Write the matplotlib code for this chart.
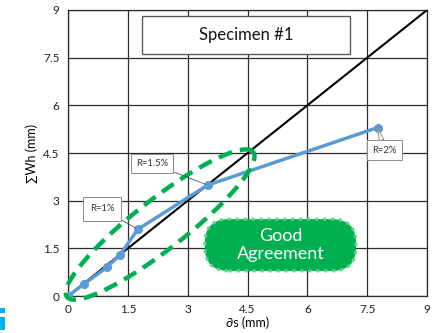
import numpy as np
import matplotlib
matplotlib.use("Agg")
import matplotlib.pyplot as plt
from matplotlib.patches import FancyBboxPatch, Rectangle

plt.rcParams['font.family'] = ['Lato', 'DejaVu Sans']

# data
ds = [0.0, 0.4, 0.97, 1.3, 1.75, 3.5, 7.76]
wh = [0.0, 0.38, 0.9, 1.29, 2.1, 3.49, 5.3]
ticks = [0, 1.5, 3, 4.5, 6, 7.5, 9]
tick_labels = ["0", "1.5", "3", "4.5", "6", "7.5", "9"]
labels = ["R=1%", "R=1.5%", "R=2%"]
label_idx = [4, 5, 6]
label_pos = [(0.85, 2.74), (2.10, 4.17), (7.94, 4.59)]

W, H = 443, 333
fig = plt.figure(figsize=(W / 100, H / 100), dpi=100)
L, B, R, T = 0.1535, 0.111, 0.964, 0.97
ax = fig.add_axes([L, B, R - L, T - B])
ax.set_xlim(0, 9)
ax.set_ylim(0, 9)
ax.set_xticks(ticks)
ax.set_yticks(ticks)
ax.set_xticklabels(tick_labels)
ax.set_yticklabels(tick_labels)
ax.tick_params(length=0, labelsize=8.5, colors='#222222', pad=6)
ax.grid(True, color='#2b2b2b', lw=0.9)
ax.set_axisbelow(True)
for s in ax.spines.values():
    s.set_color('#2b2b2b')
    s.set_linewidth(0.9)

ax.set_xlabel("∂s (mm)", fontsize=9, labelpad=1)
ax.set_ylabel("∑Wh (mm)", fontsize=9, labelpad=4)

# pixel scales
sx = (R - L) * W / 9
sy = (T - B) * H / 9

# 1:1 line
ax.plot([0, 9], [0, 9], color='black', lw=1.5, zorder=3)

# ellipse (annotation)
cx, cy = 2.31, 2.25
ang = np.deg2rad(37.9)
a_px, b_px = 118, 25
t = np.linspace(0, 2 * np.pi, 400)
px = a_px * np.cos(t) * np.cos(ang) - b_px * np.sin(t) * np.sin(ang)
py = a_px * np.cos(t) * np.sin(ang) + b_px * np.sin(t) * np.cos(ang)
ax.plot(cx + px / sx, cy + py / sy, color='#00B050', lw=3.2,
        ls=(0, (3.2, 1.8)), zorder=5, clip_on=False)

# data series
ax.plot(ds, wh, color='#5B9BD5', lw=2.5, marker='o', ms=5.5, zorder=4)

# callouts
pads = [0.75, 0.5, 0.55]
for lab, i, pos, pd in zip(labels, label_idx, label_pos, pads):
    if lab == "R=2%":
        arrow = dict(arrowstyle='wedge,tail_width=0.5', fc='white', ec='#8c8c8c',
                     lw=0.7, shrinkA=0, shrinkB=0)
    else:
        arrow = dict(arrowstyle='-', color='#555555', lw=0.6, shrinkA=0, shrinkB=2)
    ax.annotate(lab, xy=(ds[i], wh[i]), xytext=pos, fontsize=6.8,
                ha='center', va='center', color='#333333', zorder=6,
                bbox=dict(boxstyle=f'square,pad={pd}', fc='white', ec='#8c8c8c', lw=0.7),
                arrowprops=arrow)

# Specimen box
x0, x1 = 1.855, 7.07
y0, y1 = 7.61, 8.80
ax.add_patch(Rectangle((x0, y0), x1 - x0, y1 - y0, fc='white', ec='#595959',
                       lw=1.0, zorder=6))
ax.text((x0 + x1) / 2, (y0 + y1) / 2, "Specimen #1", fontsize=12,
        ha='center', va='center', color='#111111', zorder=7)

# Good Agreement pill
gx0, gx1 = 3.43, 7.22
gy0, gy1 = 0.79, 2.42
r_px = 24
ax.add_patch(FancyBboxPatch((gx0, gy0), gx1 - gx0, gy1 - gy0,
                            boxstyle=f"round,pad=0,rounding_size={r_px / sx}",
                            mutation_aspect=sx / sy,
                            fc='#00B050', ec='#5fd58a', lw=2.2, ls=(0, (1, 1.6)),
                            zorder=6))
ax.text((gx0 + gx1) / 2, (gy0 + gy1) / 2, "Good\nAgreement", fontsize=13,
        ha='center', va='center', color='white', linespacing=1.1, zorder=7)

# partial cyan glyph at bottom-left edge
fig.add_artist(Rectangle((0, 3 / H), 5 / W, 13 / H, transform=fig.transFigure,
                         fc='#00B0F0', ec='none'))
fig.add_artist(Rectangle((0, 20 / H), 5 / W, 5 / H, transform=fig.transFigure,
                         fc='#00B0F0', ec='none'))

fig.savefig("out.png", dpi=100)
